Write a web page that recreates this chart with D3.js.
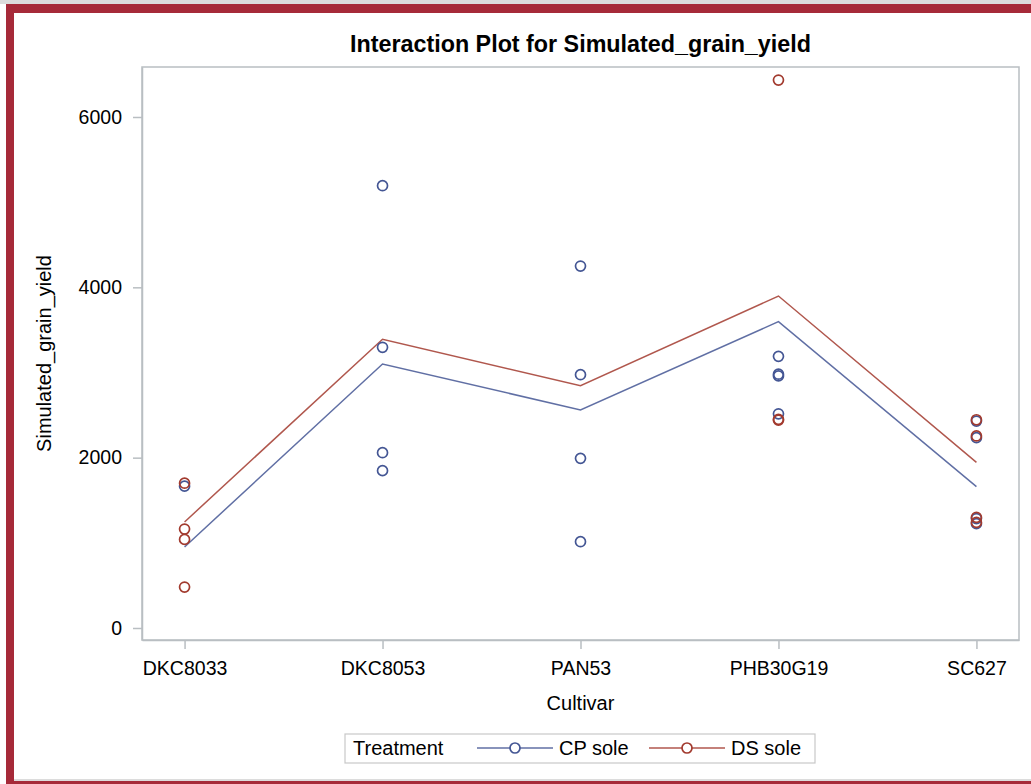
<!DOCTYPE html>
<html>
<head>
<meta charset="utf-8">
<script src="https://cdn.jsdelivr.net/npm/d3@7"></script>
<style>
  body { margin: 0; background: #fff; }
  svg text { font-family: "Liberation Sans", Arial, sans-serif; fill: #000; }
</style>
</head>
<body>
<div id="chart"></div>
<script>
/* Data */
var cultivars = ["DKC8033", "DKC8053", "PAN53", "PHB30G19", "SC627"];
var yTicks    = [0, 2000, 4000, 6000];

// fitted lines per treatment
var cpMeans = [951, 3100, 2560, 3597, 1659];
var dsMeans = [1245, 3390, 2845, 3898, 1945];

// observations [cultivar, yield]
var cpObs = [
  ["DKC8033", 1665],
  ["DKC8053", 5193], ["DKC8053", 3296], ["DKC8053", 2058], ["DKC8053", 1847],
  ["PAN53", 4250], ["PAN53", 2974], ["PAN53", 1992], ["PAN53", 1013],
  ["PHB30G19", 3190], ["PHB30G19", 2980], ["PHB30G19", 2960], ["PHB30G19", 2515],
  ["SC627", 2430], ["SC627", 2235], ["SC627", 1285], ["SC627", 1225]
];
var dsObs = [
  ["DKC8033", 1700], ["DKC8033", 1162], ["DKC8033", 1040], ["DKC8033", 481],
  ["PHB30G19", 6434], ["PHB30G19", 2450], ["PHB30G19", 2440],
  ["SC627", 2445], ["SC627", 2255], ["SC627", 1300], ["SC627", 1240]
];

var groups = [
  { name: "CP sole", color: "#445694", means: cpMeans, obs: cpObs },
  { name: "DS sole", color: "#a23a2e", means: dsMeans, obs: dsObs }
];

/******************************************************************************/
/*  Layout                                                                    */
/******************************************************************************/
var W = 1031, H = 784,
    pLeft = 142, pRight = 1019, pTop = 67, pBottom = 640,
    frameCol = "#b9bec2";

var svg = d3.select("#chart").append("svg")
    .attr("width", W)
    .attr("height", H);

// window frame
svg.append("rect").attr("x", 0).attr("y", 0).attr("width", W).attr("height", 4).attr("fill", "#dcdcdc");
svg.append("rect").attr("x", 6).attr("y", 4).attr("width", W - 6).attr("height", 9).attr("fill", "#a62a39");
svg.append("rect").attr("x", 6).attr("y", 4).attr("width", 8).attr("height", H - 4).attr("fill", "#a62a39");
svg.append("rect").attr("x", 14).attr("y", 779).attr("width", W - 14).attr("height", 2).attr("fill", "#dcdcdc");
svg.append("rect").attr("x", 14).attr("y", 781).attr("width", W - 14).attr("height", 3).attr("fill", "#a62a39");

var x = d3.scalePoint().domain(cultivars).range([pLeft, pRight]).padding(0.215);
var y = d3.scaleLinear().domain([-141, 6587]).range([pBottom, pTop]);

// plot frame
svg.append("rect")
    .attr("x", pLeft).attr("y", pTop)
    .attr("width", pRight - pLeft).attr("height", pBottom - pTop)
    .attr("fill", "none").attr("stroke", frameCol).attr("stroke-width", 1.5);

// axes
var xAxis = svg.append("g")
    .attr("transform", "translate(0," + pBottom + ")")
    .call(d3.axisBottom(x).tickSize(9).tickSizeOuter(0).tickPadding(12));
var yAxis = svg.append("g")
    .attr("transform", "translate(" + pLeft + ",0)")
    .call(d3.axisLeft(y).tickValues(yTicks).tickSize(9).tickSizeOuter(0).tickPadding(11).tickFormat(d3.format("d")));

[xAxis, yAxis].forEach(function(a){
  a.select(".domain").attr("stroke", frameCol).attr("stroke-width", 1.5);
  a.selectAll(".tick line").attr("stroke", frameCol).attr("stroke-width", 1.5);
  a.selectAll(".tick text").style("font-size", "19.5px").attr("fill", "#111");
});

// title and labels
svg.append("text")
    .attr("x", (pLeft + pRight) / 2).attr("y", 52)
    .attr("text-anchor", "middle")
    .style("font-size", "23.3px").style("font-weight", "bold")
    .text("Interaction Plot for Simulated_grain_yield");

svg.append("text")
    .attr("x", (pLeft + pRight) / 2).attr("y", 710)
    .attr("text-anchor", "middle")
    .style("font-size", "20px")
    .text("Cultivar");

svg.append("text")
    .attr("transform", "translate(51," + ((pTop + pBottom) / 2) + ") rotate(-90)")
    .attr("text-anchor", "middle")
    .style("font-size", "20px")
    .text("Simulated_grain_yield");

/******************************************************************************/
/*  Lines and points                                                          */
/******************************************************************************/
var line = d3.line()
    .x(function(d, i){ return x(cultivars[i]); })
    .y(function(d){ return y(d); });

groups.forEach(function(g){
  svg.append("path")
      .datum(g.means)
      .attr("d", line)
      .attr("fill", "none")
      .attr("stroke", g.color)
      .attr("stroke-opacity", 0.85)
      .attr("stroke-width", 1.5);
});

groups.forEach(function(g){
  svg.append("g").selectAll("circle").data(g.obs)
    .enter().append("circle")
      .attr("cx", function(d){ return x(d[0]); })
      .attr("cy", function(d){ return y(d[1]); })
      .attr("r", 5)
      .attr("fill", "none")
      .attr("stroke", g.color)
      .attr("stroke-width", 1.7);
});

/******************************************************************************/
/*  Legend                                                                    */
/******************************************************************************/
var lg = svg.append("g");
lg.append("rect")
    .attr("x", 345).attr("y", 734).attr("width", 470).attr("height", 29)
    .attr("fill", "#fff").attr("stroke", "#c8c8c8").attr("stroke-width", 1.2);

lg.append("text")
    .attr("x", 353).attr("y", 755)
    .style("font-size", "20px")
    .text("Treatment");

var legendX = [477, 649];
groups.forEach(function(g, i){
  var x0 = legendX[i];
  lg.append("line")
      .attr("x1", x0).attr("x2", x0 + 76)
      .attr("y1", 748).attr("y2", 748)
      .attr("stroke", g.color).attr("stroke-opacity", 0.85).attr("stroke-width", 1.5);
  lg.append("circle")
      .attr("cx", x0 + 38).attr("cy", 748).attr("r", 5)
      .attr("fill", "#fff").attr("stroke", g.color).attr("stroke-width", 1.7);
  lg.append("text")
      .attr("x", x0 + 82).attr("y", 755)
      .style("font-size", "20px")
      .text(g.name);
});
</script>
</body>
</html>
